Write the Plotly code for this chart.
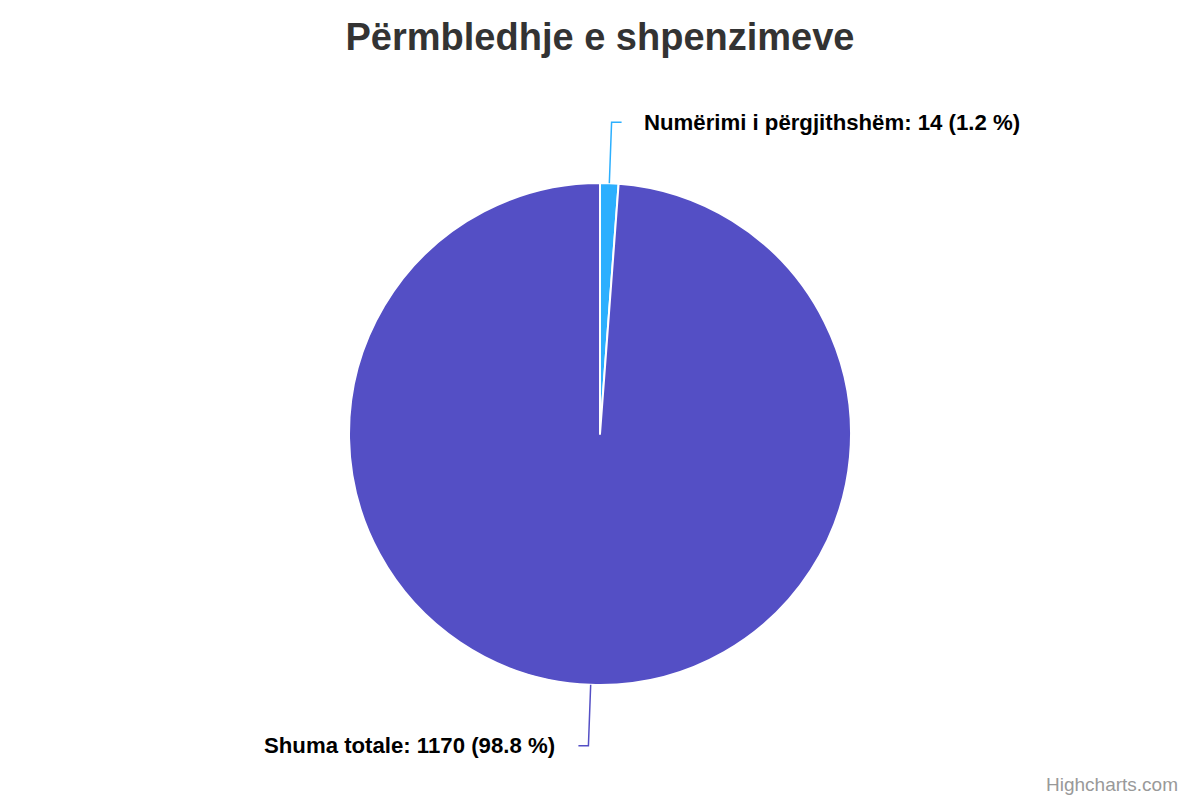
import math
import plotly.graph_objects as go

categories = ["Numërimi i përgjithshëm", "Shuma totale"]
values = [14, 1170]
percent_labels = ["1.2 %", "98.8 %"]
colors = ["#2caffe", "#544fc5"]

W, H = 1200, 800
CX, CY, R = 600, 434, 251  # pie center/radius in px (layout)
FONT = "Arial, Liberation Sans, sans-serif"

def px_to_paper(x, y):
    return x / W, 1 - y / H

fig = go.Figure()
y0 = 1 - (CY + R) / H
y1 = 1 - (CY - R) / H
fig.add_trace(go.Pie(
    labels=categories,
    values=values,
    sort=False,
    direction="clockwise",
    rotation=0,
    marker=dict(colors=colors, line=dict(color="#ffffff", width=2)),
    textinfo="none",
    hoverinfo="label+value+percent",
    showlegend=False,
    domain=dict(x=[0, 1], y=[y0, y1]),
))

total = sum(values)
cum = 0
shapes = []
annotations = []
for cat, v, pl, col in zip(categories, values, percent_labels, colors):
    mid = (cum + v / 2) / total * 2 * math.pi
    cum += v
    sx, sy = CX + R * math.sin(mid), CY - R * math.cos(mid)
    ox, oy = CX + (R + 61) * math.sin(mid), CY - (R + 61) * math.cos(mid)
    right = math.sin(mid) >= 0
    hx = ox + (10 if right else -10)
    p1 = px_to_paper(sx, sy)
    p2 = px_to_paper(ox, oy)
    p3 = px_to_paper(hx, oy)
    shapes.append(dict(
        type="path", xref="paper", yref="paper",
        path=f"M {p1[0]} {p1[1]} L {p2[0]} {p2[1]} L {p3[0]} {p3[1]}",
        line=dict(color=col, width=1.5),
    ))
    tx = hx + (20 if right else -21)
    tp = px_to_paper(tx, oy)
    annotations.append(dict(
        x=tp[0], y=tp[1], xref="paper", yref="paper",
        xanchor="left" if right else "right", yanchor="middle",
        text=f"<b>{cat}: {v} ({pl})</b>", showarrow=False,
        font=dict(family=FONT, size=22.2, color="#000000"),
    ))

annotations.append(dict(
    x=1180 / W, y=1 - 784 / H, xref="paper", yref="paper",
    xanchor="right", yanchor="middle", text="Highcharts.com", showarrow=False,
    font=dict(family=FONT, size=19, color="#999999"),
))

fig.update_layout(
    width=W, height=H,
    margin=dict(l=0, r=0, t=0, b=0),
    paper_bgcolor="#ffffff",
    title=dict(
        text="<b>Përmbledhje e shpenzimeve</b>",
        x=0.5, xanchor="center", y=1 - 37 / H, yanchor="middle",
        font=dict(family=FONT, size=38, color="#333333"),
    ),
    shapes=shapes,
    annotations=annotations,
)

fig.write_html(
    "out.html",
    config={"displayModeBar": False},
    post_script="document.body.style.margin='0';document.body.style.overflow='hidden';",
)
